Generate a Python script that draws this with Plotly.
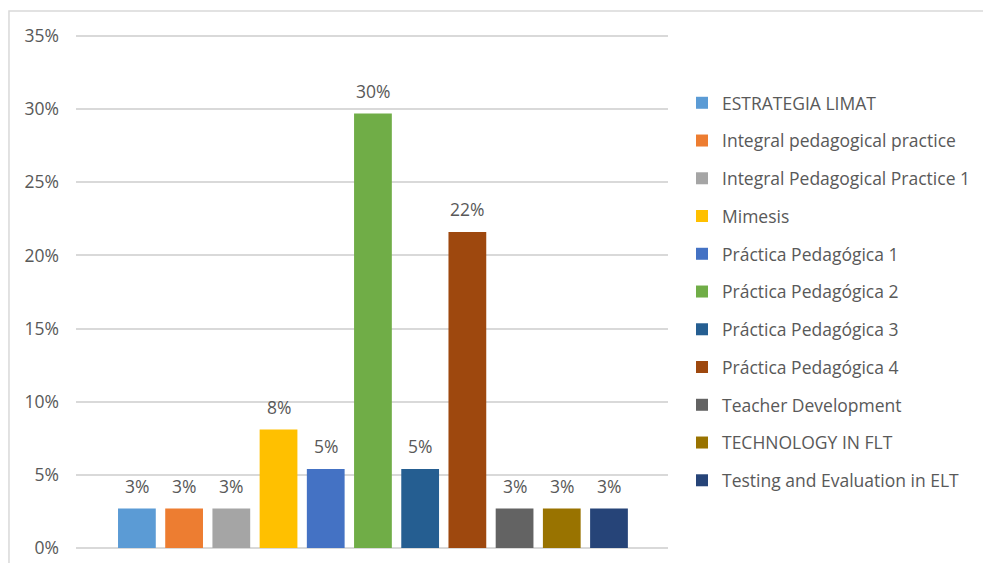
import plotly.graph_objects as go

# Share of responses per course / practice
courses = [
    "ESTRATEGIA LIMAT",
    "Integral pedagogical practice",
    "Integral Pedagogical Practice 1",
    "Mimesis",
    "Práctica Pedagógica 1",
    "Práctica Pedagógica 2",
    "Práctica Pedagógica 3",
    "Práctica Pedagógica 4",
    "Teacher Development",
    "TECHNOLOGY IN FLT",
    "Testing and Evaluation in ELT",
]
shares = [0.027, 0.027, 0.027, 0.081, 0.054, 0.297, 0.054, 0.216, 0.027, 0.027, 0.027]
colors = [
    "#5B9BD5", "#ED7D31", "#A5A5A5", "#FFC000", "#4472C4", "#70AD47",
    "#255E91", "#9E480E", "#636363", "#997300", "#264478",
]
y_ticks = [0, 0.05, 0.10, 0.15, 0.20, 0.25, 0.30, 0.35]

FONT = "Open Sans"
TXT = "#595959"
FS = 17.5

fig = go.Figure()
for i, (name, val, col) in enumerate(zip(courses, shares, colors)):
    fig.add_trace(go.Bar(
        x=[i], y=[val], name=name, width=0.8,
        marker=dict(color=col, line=dict(width=0)),
        legendgroup=name, hoverinfo="skip",
    ))
    fig.add_annotation(
        x=i, y=val, text=f"{val:.0%}", showarrow=False,
        yanchor="bottom", yshift=9,
        font=dict(family=FONT, size=FS, color=TXT),
    )

# light outer chart border
fig.add_shape(type="rect", xref="paper", yref="paper",
              x0=-0.1132, x1=2.0, y0=-1.0, y1=1.0446,
              line=dict(color="#D9D9D9", width=1.5), fillcolor="rgba(0,0,0,0)",
              layer="below")

# pad the value range by ~2px so the 0% and 35% gridlines are kept
pad = 0.35 / 512 * 2

fig.update_layout(
    width=983, height=563,
    margin=dict(l=76, r=315, t=34, b=13),
    paper_bgcolor="white", plot_bgcolor="white",
    barmode="overlay",
    showlegend=True,
    font=dict(family=FONT, size=FS, color=TXT),
    xaxis=dict(range=[-1.29, 11.25], showticklabels=False, showgrid=False,
               zeroline=False, showline=False, fixedrange=True),
    yaxis=dict(range=[-pad, 0.35 + pad], tickvals=y_ticks, tickformat=".0%",
               showgrid=True, gridcolor="#D9D9D9", gridwidth=1.5,
               zeroline=False, showline=False, ticks="", ticklen=0,
               ticklabelstandoff=16,
               tickfont=dict(family=FONT, size=FS, color=TXT),
               automargin=False),
    legend=dict(xref="container", yref="container", x=0.6938, y=0.8492,
                xanchor="left", yanchor="top", maxheight=540,
                font=dict(family=FONT, size=FS, color=TXT),
                tracegroupgap=12, itemclick=False, bgcolor="rgba(0,0,0,0)"),
)

fig.write_html("out.html")
